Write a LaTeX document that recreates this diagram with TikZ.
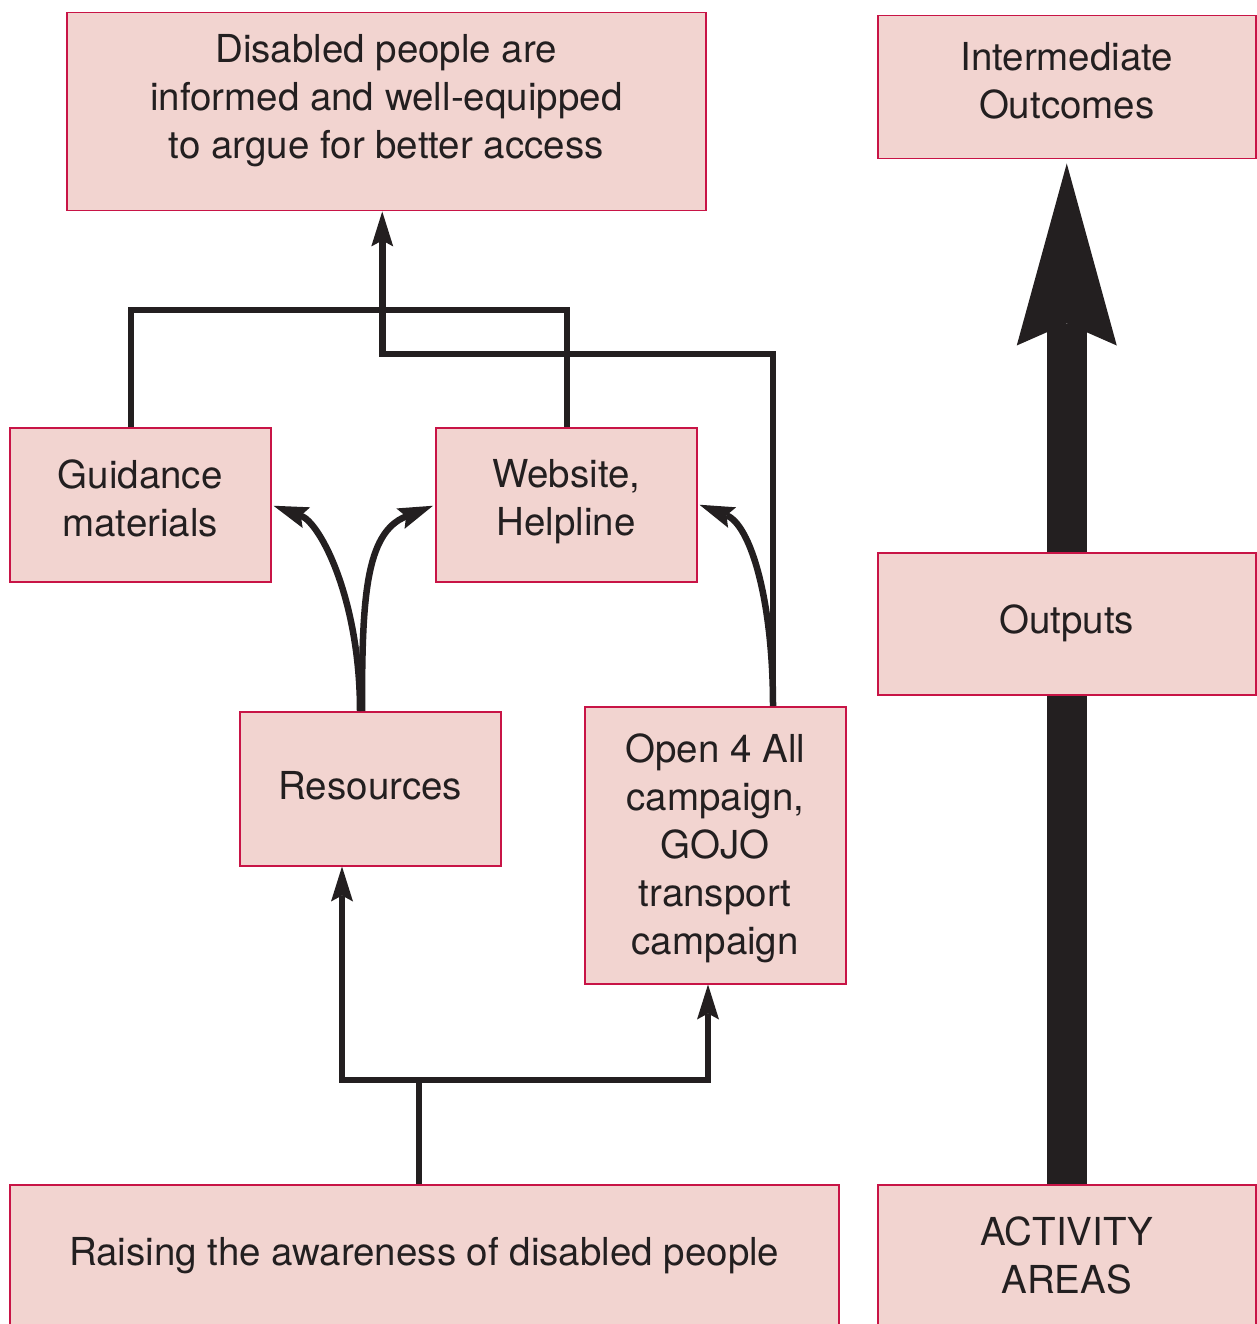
\documentclass[tikz,border=0pt]{standalone}
\usepackage{fontspec}
\setmainfont{TeX Gyre Heros}
\usetikzlibrary{arrows.meta,calc}
\definecolor{boxfill}{RGB}{242,212,208}
\definecolor{boxline}{RGB}{200,20,70}
\definecolor{ink}{RGB}{35,31,32}
\begin{document}
\begin{tikzpicture}[x=1pt,y=-1pt,
  box/.style={draw=boxline, line width=1.5pt, fill=boxfill, anchor=north west,
    align=center, inner sep=0pt, text=ink, font=\fontsize{38.5}{48}\selectfont},
  link/.style={draw=ink, line width=6.5pt},
  tip/.style={-{Stealth[length=35pt,width=22pt,inset=6pt,line width=0pt]}},
  bigtip/.style={-{Stealth[length=182pt,width=100pt,inset=22pt,line width=0pt]}},
]
\useasboundingbox (0,0) rectangle (1256,1324);

% boxes
\node[box, minimum width=639pt, minimum height=198pt, text depth=30pt] (goal) at (66,12)
  {Disabled people are\\informed and well-equipped\\to argue for better access};
\node[box, minimum width=378pt, minimum height=143pt, text depth=14pt] (inter) at (877,15)
  {Intermediate\\Outcomes};
\node[box, minimum width=261pt, minimum height=154pt, text depth=14pt] (guid) at (9,427)
  {Guidance\\materials};
\node[box, minimum width=261pt, minimum height=154pt, text depth=14pt] (web) at (435,427)
  {Website,\\Helpline};
\node[box, minimum width=378pt, minimum height=142pt] (outp) at (877,552)
  {Outputs};
\node[box, minimum width=261pt, minimum height=154pt, text depth=6pt] (res) at (239,711)
  {Resources};
\node[box, minimum width=261pt, minimum height=277pt, text depth=2.4pt] (open) at (584,706)
  {Open 4 All\\campaign,\\GOJO\\transport\\campaign};
\node[box, minimum width=829pt, minimum height=142pt] (raise) at (9,1184)
  {Raising the awareness of disabled people};
\node[box, minimum width=378pt, minimum height=142pt] (act) at (877,1184)
  {ACTIVITY\\AREAS};

% bracket joining guidance and website
\draw[link] ($(guid.north west)+(122,0)$) -- ++(0,-117) -| ($(web.north west)+(132,0)$);

% campaign line up to the goal
\draw[link,tip] ($(open.north west)+(189,0)$) -- ++(0,-352) -| ($(goal.south)+(-4,0)$);

% curved arrows
\draw[link,tip] ($(res.north west)+(121,0)$) .. controls +(0,-111) and ($(guid.east)+(49,18)$) .. ($(guid.east)+(2,1)$);
\draw[link,tip] ($(res.north west)+(123,0)$) .. controls +(0,-111) and ($(web.west)+(-70,28)$) .. ($(web.west)+(-2,1)$);
\draw[link,tip] ($(open.north west)+(189,0)$) .. controls +(0,-106) and ($(web.east)+(53,20)$) .. ($(web.east)+(2,0)$);

% fork from the activity area
\coordinate (fork) at ($(raise.north west)+(410,-104)$);
\draw[link] ($(raise.north west)+(410,0)$) -- (fork);
\draw[link,tip] (fork) -| ($(res.south west)+(103,0)$);
\draw[link,tip] (fork) -| ($(open.south west)+(124,0)$);

% levels arrow
\draw[ink, line width=40pt] (act.north) -- (outp.south);
\draw[ink, line width=40pt, bigtip] (outp.north) -- ($(inter.south)+(0,4)$);
\end{tikzpicture}
\end{document}
